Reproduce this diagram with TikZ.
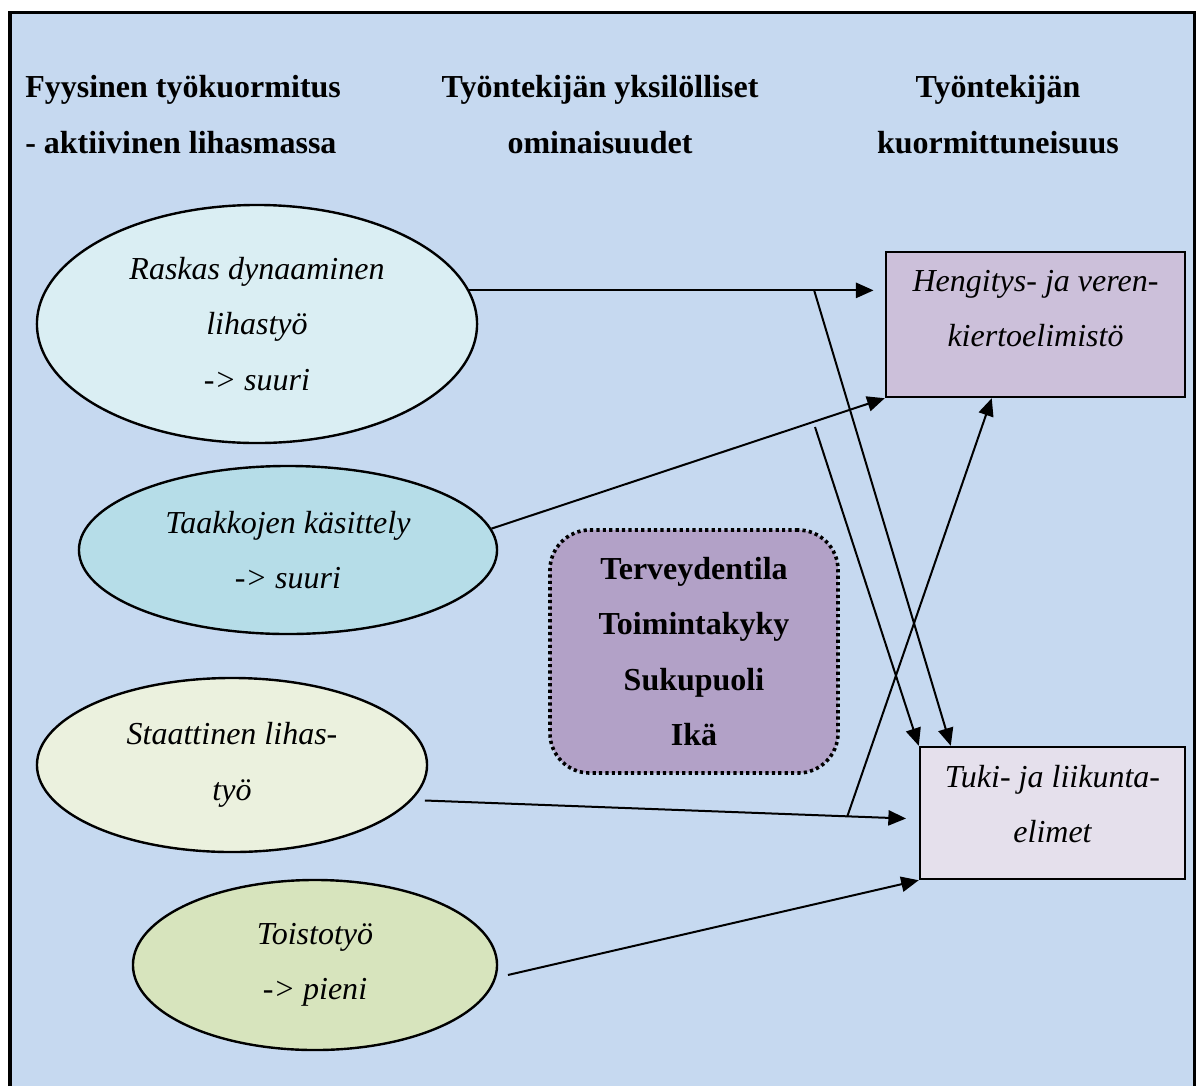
\documentclass[tikz,border=0pt]{standalone}
\usepackage{fontspec}
\setmainfont{Liberation Serif}
\usetikzlibrary{arrows.meta,calc,shapes.geometric}

\definecolor{bgblue}{HTML}{C6D9F0}
\definecolor{raskasfill}{HTML}{DAEEF3}
\definecolor{taakkofill}{HTML}{B6DDE8}
\definecolor{staattfill}{HTML}{EBF1DE}
\definecolor{toistofill}{HTML}{D7E4BD}
\definecolor{omafill}{HTML}{B2A1C7}
\definecolor{hengfill}{HTML}{CCC0DA}
\definecolor{tukifill}{HTML}{E5E0EC}

\newcommand{\bodyfont}{\fontsize{22.76}{39.5}\selectfont}

\tikzset{
  oval/.style={ellipse, draw, line width=0.06cm, inner sep=0pt, align=center, font=\itshape\bodyfont},
  box/.style={rectangle, draw, line width=0.06cm, inner sep=0pt},
  boxtext/.style={anchor=north, inner sep=0pt, align=center, font=\itshape\bodyfont},
  head/.style={inner sep=0pt, font=\bfseries\bodyfont},
  link/.style={line width=0.05cm},
  arr/.style={link, -{Triangle[length=0.44cm,width=0.38cm]}}
}

\begin{document}
\begin{tikzpicture}[x=0.025cm, y=-0.025cm]
  \useasboundingbox (0,0) rectangle (1197,1086);

  % Draw background panel with frame
  \fill[bgblue] (10,12) rectangle (1194.5,1086);
  \draw[line width=0.075cm] (10,1086) -- (10,12) -- (1194.5,12) -- (1194.5,1086);

  % Column headings
  \node[head, anchor=north west, align=left] (head1) at (25,75)
    {Fyysinen työkuormitus\\- aktiivinen lihasmassa};
  \node[head, anchor=north, align=center] (head2) at (600,75)
    {Työntekijän yksilölliset\\ominaisuudet};
  \node[head, anchor=north, align=center] (head3) at (998,75)
    {Työntekijän\\kuormittuneisuus};

  % Workload ellipses
  \node[oval, fill=raskasfill, minimum width=11cm, minimum height=5.95cm] (raskas) at (257,324)
    {Raskas dynaaminen\\lihastyö\\-> suuri};
  \node[oval, fill=taakkofill, minimum width=10.45cm, minimum height=4.2cm] (taakko) at (288,550)
    {Taakkojen käsittely\\-> suuri};
  \node[oval, fill=staattfill, minimum width=9.75cm, minimum height=4.35cm] (staatt) at (232,765)
    {Staattinen lihas-\\työ};
  \node[oval, fill=toistofill, minimum width=9.1cm, minimum height=4.25cm] (toisto) at (315,965)
    {Toistotyö\\-> pieni};

  % Individual properties (dotted rounded box)
  \node[draw, fill=omafill, rounded corners=1cm, line width=0.09cm,
        dash pattern=on 0.08cm off 0.08cm, inner sep=0pt, align=center,
        font=\bfseries\bodyfont, minimum width=7.2cm, minimum height=6.075cm] (omin) at (694,651.5)
    {Terveydentila\\Toimintakyky\\Sukupuoli\\Ikä};

  % Strain boxes
  \node[box, fill=hengfill, minimum width=7.475cm, minimum height=3.625cm] (hengitys) at (1035.5,324.5) {};
  \node[boxtext] (hengitystxt) at ($(hengitys.north)+(0,19)$) {Hengitys- ja veren-\\kiertoelimistö};
  \node[box, fill=tukifill, minimum width=6.625cm, minimum height=3.3cm] (tuki) at (1052.5,813) {};
  \node[boxtext] (tukitxt) at ($(tuki.north)+(0,19)$) {Tuki- ja liikunta-\\elimet};

  % Fork points
  \coordinate (forkA) at ($(raskas.9)!0.83!(raskas.9 -| hengitys.west)$);
  \coordinate (forkC) at (815,427);
  \coordinate (forkE) at ($(staatt.-11)!0.859!($(tuki.west)+(0,6)$)$);

  % Connectors
  \draw[arr, shorten >=0.28cm] (raskas.9) -- (raskas.9 -| hengitys.west);
  \draw[arr] (forkA) -- ($(tuki.north west)+(32,0)$);
  \draw[arr] (taakko.6) -- (hengitys.south west);
  \draw[arr] (forkC) -- (tuki.north west);
  \draw[arr, shorten <=0.32cm, shorten >=0.32cm] (staatt.-11) -- ($(tuki.west)+(0,6)$);
  \draw[arr] (forkE) -- ($(hengitys.south west)+(107,0)$);
  \draw[arr, shorten <=0.3cm] (toisto.-4) -- (tuki.south west);
\end{tikzpicture}
\end{document}
